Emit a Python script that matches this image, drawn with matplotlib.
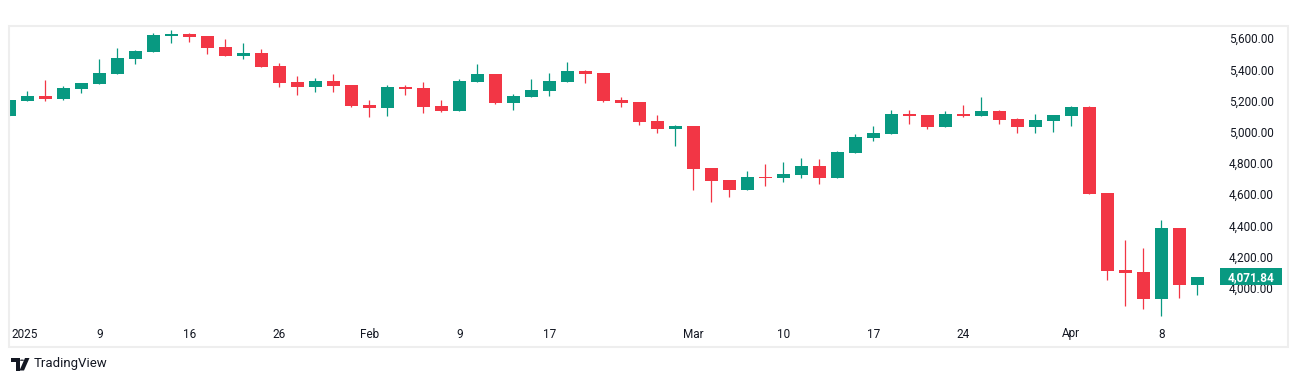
import matplotlib
matplotlib.use("Agg")
import matplotlib.pyplot as plt
from matplotlib.patches import Rectangle, Polygon, Circle
from matplotlib.transforms import blended_transform_factory, offset_copy
import numpy as np

# ---------------- data ----------------
opens = [5105, 5201, 5231, 5214, 5276, 5310, 5374, 5471, 5513, 5616,
         5629, 5616, 5546, 5490, 5509, 5424, 5321, 5291, 5328, 5302,
         5174, 5156, 5289, 5283, 5167, 5137, 5321, 5372, 5188, 5227,
         5265, 5321, 5392, 5379, 5206, 5193, 5071, 5020, 5039, 4770,
         4693, 4629, 4712, 4708, 4725, 4783, 4708, 4868, 4962, 4990,
         5116, 5110, 5035, 5116, 5105, 5135, 5084, 5035, 5073, 5105,
         5163, 4610, 4116, 4103, 3930, 4385, 4022]
highs = [5208, 5263, 5334, 5297, 5317, 5469, 5539, 5528, 5633, 5654,
         5633, 5618, 5597, 5571, 5533, 5441, 5360, 5347, 5372, 5304,
         5206, 5302, 5302, 5321, 5206, 5340, 5437, 5374, 5244, 5340,
         5379, 5449, 5398, 5381, 5225, 5195, 5110, 5046, 5041, 4772,
         4695, 4751, 4796, 4808, 4834, 4828, 4879, 4988, 5039, 5142,
         5142, 5112, 5135, 5174, 5225, 5142, 5090, 5116, 5112, 5167,
         5165, 4612, 4308, 4259, 4437, 4387, 4073]
lows = [5103, 5199, 5201, 5206, 5253, 5308, 5372, 5438, 5511, 5573,
        5578, 5503, 5488, 5471, 5417, 5291, 5240, 5257, 5257, 5161,
        5099, 5105, 5240, 5124, 5131, 5135, 5320, 5182, 5144, 5225,
        5233, 5319, 5315, 5193, 5163, 5047, 4996, 4911, 4629, 4554,
        4586, 4627, 4656, 4682, 4708, 4669, 4706, 4866, 4945, 4988,
        5054, 5022, 5033, 5099, 5103, 5054, 4996, 4996, 5003, 5041,
        4603, 4052, 3885, 3866, 3821, 3937, 3958]
closes = [5206, 5231, 5214, 5283, 5315, 5379, 5475, 5520, 5622, 5629,
          5612, 5541, 5490, 5507, 5419, 5317, 5291, 5328, 5297, 5167,
          5156, 5289, 5276, 5163, 5137, 5328, 5372, 5188, 5231, 5270,
          5328, 5392, 5374, 5199, 5188, 5067, 5020, 5039, 4765, 4688,
          4629, 4712, 4708, 4731, 4783, 4708, 4872, 4969, 4994, 5116,
          5105, 5035, 5116, 5105, 5135, 5080, 5035, 5078, 5110, 5161,
          4605, 4112, 4099, 3930, 4385, 4022, 4071.84]

date_tick_idx = [0, 5, 10, 15, 20, 25, 30, 38, 43, 48, 53, 59, 64]
date_tick_labels = ["2025", "9", "16", "26", "Feb", "9", "17", "Mar", "10",
                    "17", "24", "Apr", "8"]
price_ticks = [5600, 5400, 5200, 5000, 4800, 4600, 4400, 4200, 4000]
last_price = 4071.84

# ---------------- style ----------------
UP = "#089981"
DOWN = "#F23645"
TXT = "#131722"
FONT = "Roboto"
W, H = 1298, 382
DPI = 100

fig = plt.figure(figsize=(W / DPI, H / DPI), dpi=DPI)
fig.patch.set_facecolor("white")

def fx(px):
    return px / W

def fy(py):
    return 1 - py / H

# plot area in pixels
L_px, R_px, T_px, B_px = 10, 1210, 27, 320
ax = fig.add_axes([fx(L_px), fy(B_px), fx(R_px) - fx(L_px), fy(T_px) - fy(B_px)])
ax.set_facecolor("white")
for s in ax.spines.values():
    s.set_visible(False)
ax.set_xticks([])
ax.set_yticks([])

n = len(opens)
x = np.arange(n)
step_px = 18.0
x0_px = 9.3
ax.set_xlim((L_px - x0_px) / step_px, (R_px - x0_px) / step_px)
def price_at(py):
    return 5600 - (py - 38.5) / 0.156
ax.set_ylim(price_at(B_px), price_at(T_px))

o = np.array(opens, dtype=float)
h = np.array(highs, dtype=float)
l = np.array(lows, dtype=float)
c = np.array(closes, dtype=float)
colors = [UP if cc >= oo else DOWN for oo, cc in zip(o, c)]
min_h = 1.0 / 0.156
body_bottom = np.minimum(o, c)
body_h = np.maximum(np.abs(c - o), min_h)

ax.vlines(x, l, h, colors=colors, linewidth=0.9, zorder=1)
ax.bar(x, body_h, bottom=body_bottom, width=13 / step_px, color=colors,
       linewidth=0, zorder=2)

# date labels
tr_date = blended_transform_factory(ax.transData, fig.transFigure)
for idx, lab in zip(date_tick_idx, date_tick_labels):
    if idx == 0:
        fig.text(fx(11), fy(334), lab, ha="left", va="center", fontsize=8.5,
                 color=TXT, family=FONT)
    else:
        fig.text(idx, fy(334), lab, ha="center", va="center", fontsize=8.5,
                 color=TXT, family=FONT, transform=tr_date)

# price labels
tr_price = offset_copy(blended_transform_factory(fig.transFigure, ax.transData),
                       fig=fig, x=0, y=-1.2, units="dots")
for p in price_ticks:
    fig.text(fx(1229), p, f"{p:,.2f}", ha="left", va="center", fontsize=8.5,
             color=TXT, family=FONT, transform=tr_price)

# last price badge
y_last = 38.5 + (5600 - last_price) * 0.156
fig.patches.append(Rectangle((fx(1220), fy(y_last + 8.5)), fx(62), 17 / H,
                             transform=fig.transFigure, facecolor=UP,
                             edgecolor="none", zorder=5))
fig.text(fx(1251), fy(y_last + 0.5), f"{last_price:,.2f}", ha="center", va="center",
         fontsize=8.5, color="white", fontweight="bold", family=FONT, zorder=6)

# outer frame
fig.patches.append(Rectangle((fx(9.3), fy(346.7)), fx(1287.7 - 9.3), (346.7 - 26) / H,
                             transform=fig.transFigure, facecolor="none",
                             edgecolor="#eeeeee", linewidth=1.5, zorder=0))

# TradingView logo
def pts(lst):
    return [(fx(a), fy(b)) for a, b in lst]
fig.patches.append(Polygon(pts([(11, 358), (19.5, 358), (19.5, 370.5), (15.5, 370.5),
                                (15.5, 362), (11, 362)]),
                           closed=True, transform=fig.transFigure,
                           facecolor=TXT, edgecolor="none"))
fig.patches.append(Circle((fx(22), fy(360.2)), 2.1 / W, transform=fig.transFigure,
                          facecolor=TXT, edgecolor="none"))
fig.patches.append(Polygon(pts([(25, 358), (29.5, 358), (24, 370.5), (19.5, 370.5)]),
                           closed=True, transform=fig.transFigure,
                           facecolor=TXT, edgecolor="none"))
fig.text(fx(34), fy(364), "TradingView", ha="left", va="center", fontsize=9.5,
         color=TXT, family=FONT)

fig.savefig("out.png", dpi=DPI, facecolor="white")
